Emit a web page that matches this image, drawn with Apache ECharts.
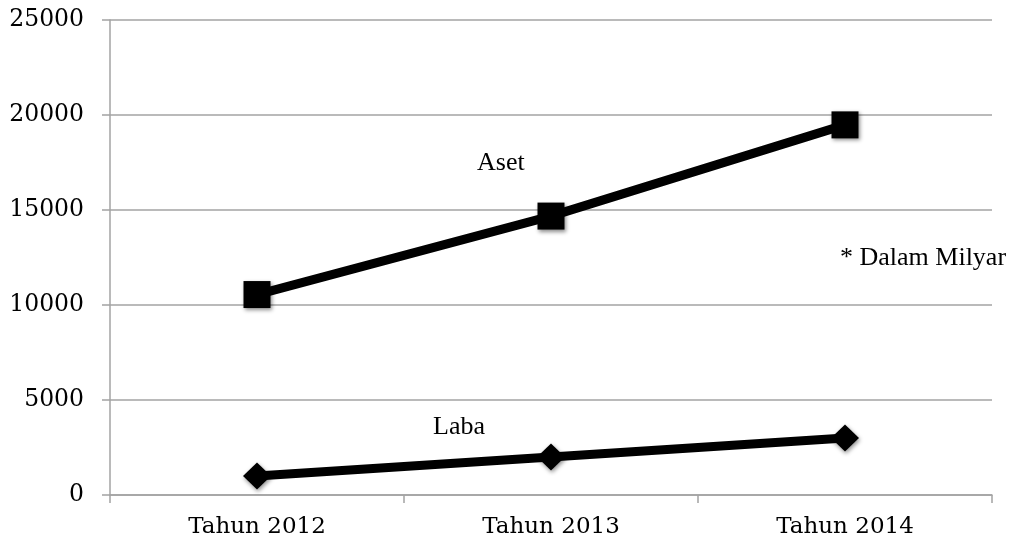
<!DOCTYPE html>
<html>
<head>
<meta charset="utf-8">
<script src="https://cdn.jsdelivr.net/npm/echarts@6/dist/echarts.min.js"></script>
<style>
html,body{margin:0;padding:0;background:#fff;}
#chart{width:1013px;height:543px;}
</style>
</head>
<body>
<div id="chart"></div>
<script>
const categories = ['Tahun 2012', 'Tahun 2013', 'Tahun 2014'];
const asetValues = [10550, 14680, 19480];
const labaValues = [1000, 2000, 3000];
const yTicks = [0, 5000, 10000, 15000, 20000, 25000];

const chart = echarts.init(document.getElementById('chart'), null, {renderer: 'canvas'});
const gray = '#a3a3a3';
const axisFont = 'DejaVu Serif';
const markerShadow = {shadowBlur: 4, shadowColor: 'rgba(0,0,0,0.45)', shadowOffsetX: 1, shadowOffsetY: 2};

chart.setOption({
  animation: false,
  backgroundColor: '#fff',
  grid: {left: 110, right: 21, top: 20, bottom: 48, containLabel: false},
  xAxis: {
    type: 'category',
    data: categories,
    boundaryGap: true,
    axisLine: {show: true, lineStyle: {color: gray, width: 1.5}},
    axisTick: {show: true, length: 8, alignWithLabel: false, lineStyle: {color: gray, width: 1.5}},
    axisLabel: {color: '#000', fontFamily: axisFont, fontSize: 23, margin: 21},
    splitLine: {show: false}
  },
  yAxis: {
    type: 'value',
    min: yTicks[0],
    max: yTicks[yTicks.length - 1],
    interval: yTicks[1] - yTicks[0],
    axisLine: {show: true, lineStyle: {color: gray, width: 1.5}},
    axisTick: {show: true, length: 8, lineStyle: {color: gray, width: 1.5}},
    axisLabel: {color: '#000', fontFamily: axisFont, fontSize: 23.5, margin: 26,
      formatter: function (v) { return String(v); }},
    splitLine: {show: true, lineStyle: {color: gray, width: 1.5}}
  },
  series: [
    {
      name: 'Aset',
      type: 'line',
      data: asetValues,
      symbol: 'rect',
      symbolSize: 27,
      lineStyle: {color: '#000', width: 9},
      itemStyle: Object.assign({color: '#000'}, markerShadow)
    },
    {
      name: 'Laba',
      type: 'line',
      data: labaValues,
      symbol: 'diamond',
      symbolSize: [28, 27],
      lineStyle: {color: '#000', width: 9},
      itemStyle: Object.assign({color: '#000'}, markerShadow)
    }
  ],
  graphic: [
    {type: 'text', left: 477, top: 150, style: {text: 'Aset', font: '26px "Liberation Serif"', fill: '#000'}},
    {type: 'text', left: 433, top: 414, style: {text: 'Laba', font: '26px "Liberation Serif"', fill: '#000'}},
    {type: 'text', left: 840, top: 245, style: {text: '* Dalam Milyar', font: '26px "Liberation Serif"', fill: '#000'}}
  ]
});
</script>
</body>
</html>
